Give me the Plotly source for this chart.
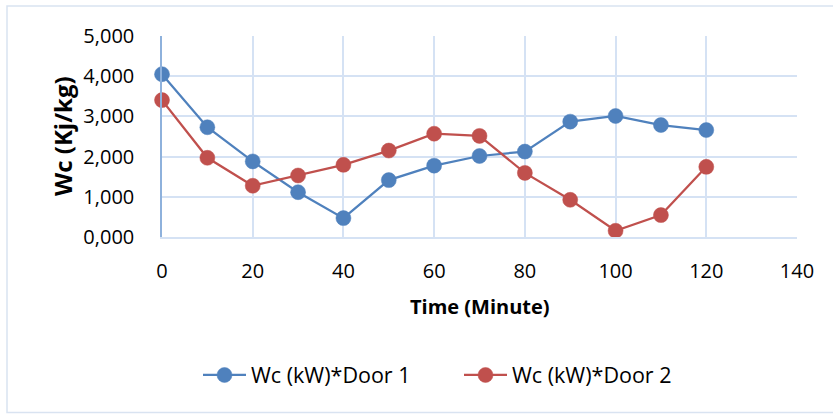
import plotly.graph_objects as go

time_min = [0, 10, 20, 30, 40, 50, 60, 70, 80, 90, 100, 110, 120]
door1 = [4050, 2730, 1880, 1115, 470, 1415, 1775, 2015, 2125, 2870, 3010, 2785, 2660]
door2 = [3405, 1970, 1275, 1530, 1795, 2150, 2570, 2515, 1595, 925, 155, 545, 1745]
series_names = ["Wc (kW)*Door 1", "Wc (kW)*Door 2"]
y_tickvals = [0, 1000, 2000, 3000, 4000, 5000]
y_ticktext = ["0,000", "1,000", "2,000", "3,000", "4,000", "5,000"]
x_tickvals = [0, 20, 40, 60, 80, 100, 120, 140]

BLUE = "#4F81BD"
RED = "#C0504D"
GRID = "#D5E2F4"
FONT = "Open Sans"

W, H = 833, 414
L, R, T, B = 162, 36, 36, 177
pw, ph = W - L - R, H - T - B

fig = go.Figure()
for name, vals, col in [(series_names[0], door1, BLUE), (series_names[1], door2, RED)]:
    fig.add_trace(go.Scatter(
        x=time_min, y=vals, name=name, mode="lines+markers",
        line=dict(color=col, width=2.25),
        marker=dict(color=col, size=15, line=dict(color=col, width=0.5)),
        cliponaxis=False,
    ))

# outer chart-area frame (left, top, bottom edges; right edge falls outside the image)
fx0, fx1 = (7 - L) / pw, (833 - L) / pw
fy0, fy1 = (H - B - 412.5) / ph, (H - B - 6) / ph
frame_path = f"M {fx1},{fy1} L {fx0},{fy1} L {fx0},{fy0} L {fx1},{fy0}"

fig.update_layout(
    width=W, height=H,
    margin=dict(l=L, r=R, t=T, b=B),
    paper_bgcolor="white", plot_bgcolor="white",
    font=dict(family=FONT, size=20, color="#000000"),
    showlegend=True,
    legend=dict(orientation="h", xref="paper", yref="paper",
                x=(198 - L) / pw, xanchor="left",
                y=-(375 - (H - B)) / ph, yanchor="middle",
                font=dict(family=FONT, size=21.5, color="#000000"),
                itemwidth=43, entrywidth=203, entrywidthmode="pixels",
                tracegroupgap=0, bgcolor="rgba(0,0,0,0)"),
    xaxis=dict(range=[0, 140], tickvals=x_tickvals, showgrid=True, gridcolor=GRID, gridwidth=2,
               zeroline=False, showline=True, linecolor=GRID, linewidth=2,
               ticks="", ticklabelstandoff=15, tickfont=dict(size=20)),
    yaxis=dict(range=[0, 5000], tickvals=y_tickvals, ticktext=y_ticktext, showgrid=True,
               gridcolor=GRID, gridwidth=2, zeroline=False, showline=True,
               linecolor="#8EB1DC", linewidth=1.5, ticks="", ticklabelstandoff=22,
               tickfont=dict(size=20)),
    annotations=[
        dict(text="<b>Time (Minute)</b>", xref="paper", yref="paper", x=(480 - L) / pw, y=0,
             xanchor="center", yanchor="middle", yshift=-(306 - (H - B)), showarrow=False,
             font=dict(family=FONT, size=20)),
        dict(text="<b>Wc (Kj/kg)</b>", xref="paper", yref="paper", x=0, y=(H - B - 136) / ph,
             xanchor="center", yanchor="middle", xshift=-(L - 62), textangle=-90, showarrow=False,
             font=dict(family=FONT, size=24)),
    ],
    shapes=[
        dict(type="path", xref="paper", yref="paper", path=frame_path,
             line=dict(color="#D9E3F1", width=1.5), layer="below"),
    ],
)

fig.write_html("out.html")
